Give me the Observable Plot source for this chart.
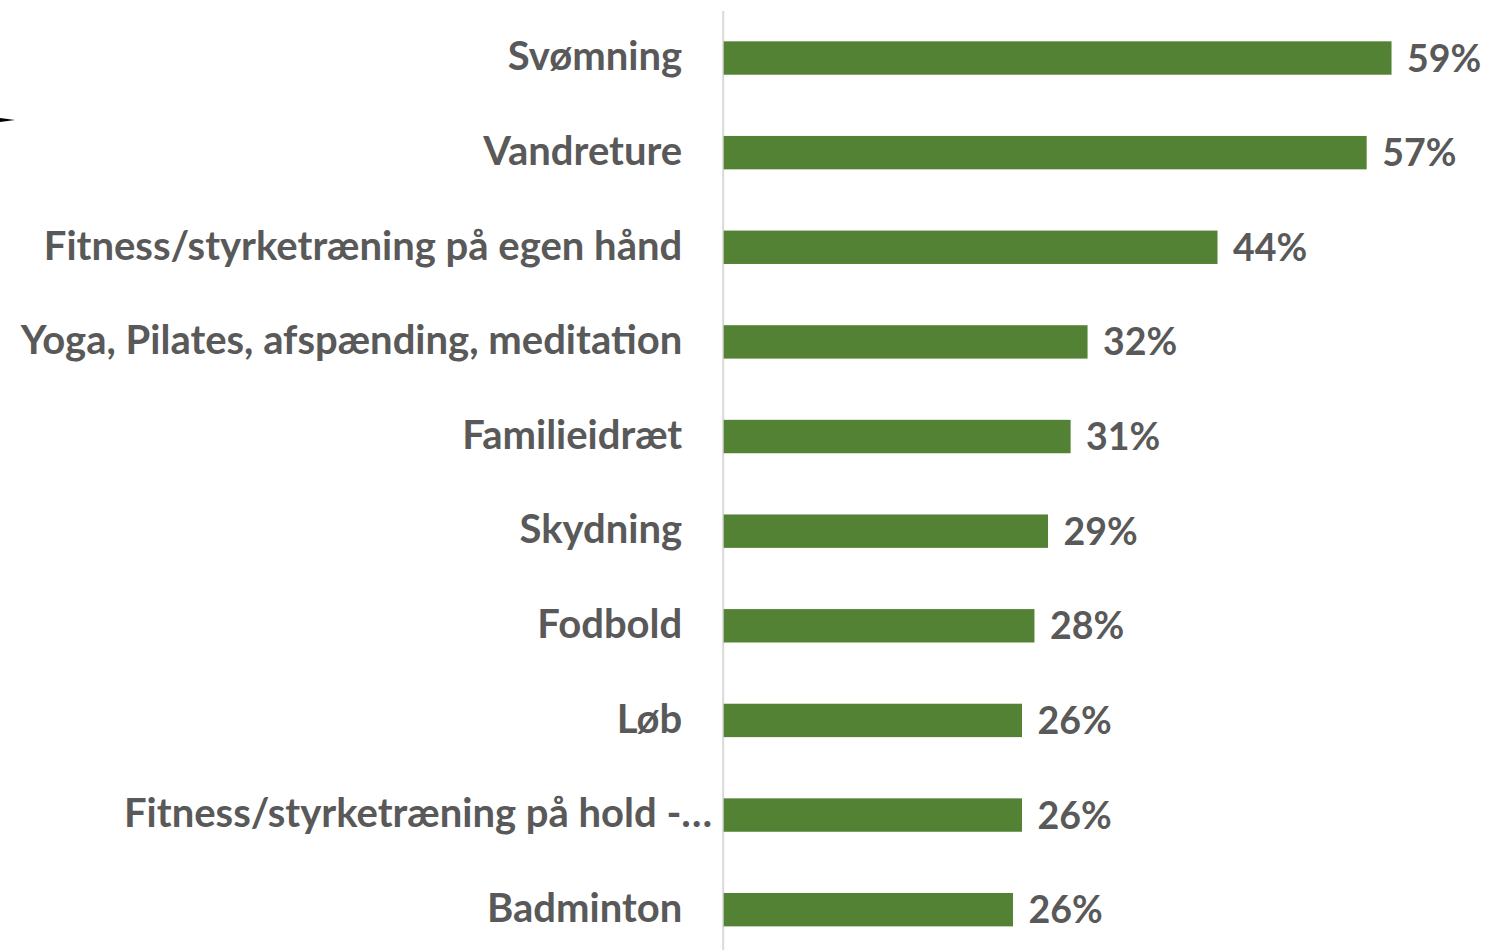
<!DOCTYPE html>
<html>
<head>
<meta charset="utf-8">
<script src="https://cdn.jsdelivr.net/npm/d3@7"></script>
<script src="https://cdn.jsdelivr.net/npm/@observablehq/plot@0.6"></script>
<style>
  html, body { margin: 0; padding: 0; background: #fff; }
  #wrap { position: relative; width: 1486px; height: 950px; overflow: hidden; }
  #arrow { position: absolute; left: 0; top: 118px; width: 0; height: 0;
           border-top: 2.5px solid transparent; border-bottom: 2.5px solid transparent;
           border-left: 15px solid #000; }
</style>
</head>
<body>
<div id="wrap"><div id="arrow"></div></div>
<script>
const categories = [
  "Svømning",
  "Vandreture",
  "Fitness/styrketræning på egen hånd",
  "Yoga, Pilates, afspænding, meditation",
  "Familieidræt",
  "Skydning",
  "Fodbold",
  "Løb",
  "Fitness/styrketræning på hold -…",
  "Badminton"
];
const values = [59.1, 56.9, 43.7, 32.2, 30.7, 28.7, 27.5, 26.4, 26.4, 25.6];
const valueLabels = ["59%", "57%", "44%", "32%", "31%", "29%", "28%", "26%", "26%", "26%"];
const truncated = ["Fitness/styrketræning på hold -…"];

const data = categories.map((c, i) => ({cat: c, value: values[i], label: valueLabels[i]}));
const fullLabels = data.filter(d => !truncated.includes(d.cat));
const cutLabels = data.filter(d => truncated.includes(d.cat));

const font = "Lato, 'Open Sans', sans-serif";
const grey = "#595959";
const green = "#548235";
const labelStyle = {y: "cat", x: 0, text: "cat", textAnchor: "end", dy: -1,
  fontSize: 40, fontWeight: "bold", fill: grey, lineAnchor: "middle"};

const chart = Plot.plot({
  width: 1486,
  height: 950,
  marginTop: 11,
  marginBottom: 0,
  marginLeft: 0,
  marginRight: 0,
  style: {fontFamily: font, background: "transparent"},
  x: {domain: [0, 60], range: [723.7, 1401.7], axis: null},
  y: {type: "band", domain: categories, range: [10.7, 957], paddingInner: 0.647, paddingOuter: 0.3235, round: false, axis: null},
  marks: [
    Plot.ruleX([0], {stroke: "#d9d9d9", strokeWidth: 2, dx: -1}),
    Plot.barX(data, {y: "cat", x: "value", fill: green}),
    Plot.text(fullLabels, {...labelStyle, dx: -42}),
    Plot.text(cutLabels, {...labelStyle, dx: -12}),
    Plot.text(data, {y: "cat", x: "value", text: "label", textAnchor: "start", dx: 15, dy: 1,
      fontSize: 37.5, fontWeight: "bold", fill: grey, lineAnchor: "middle"})
  ]
});
document.getElementById("wrap").appendChild(chart);
</script>
</body>
</html>
